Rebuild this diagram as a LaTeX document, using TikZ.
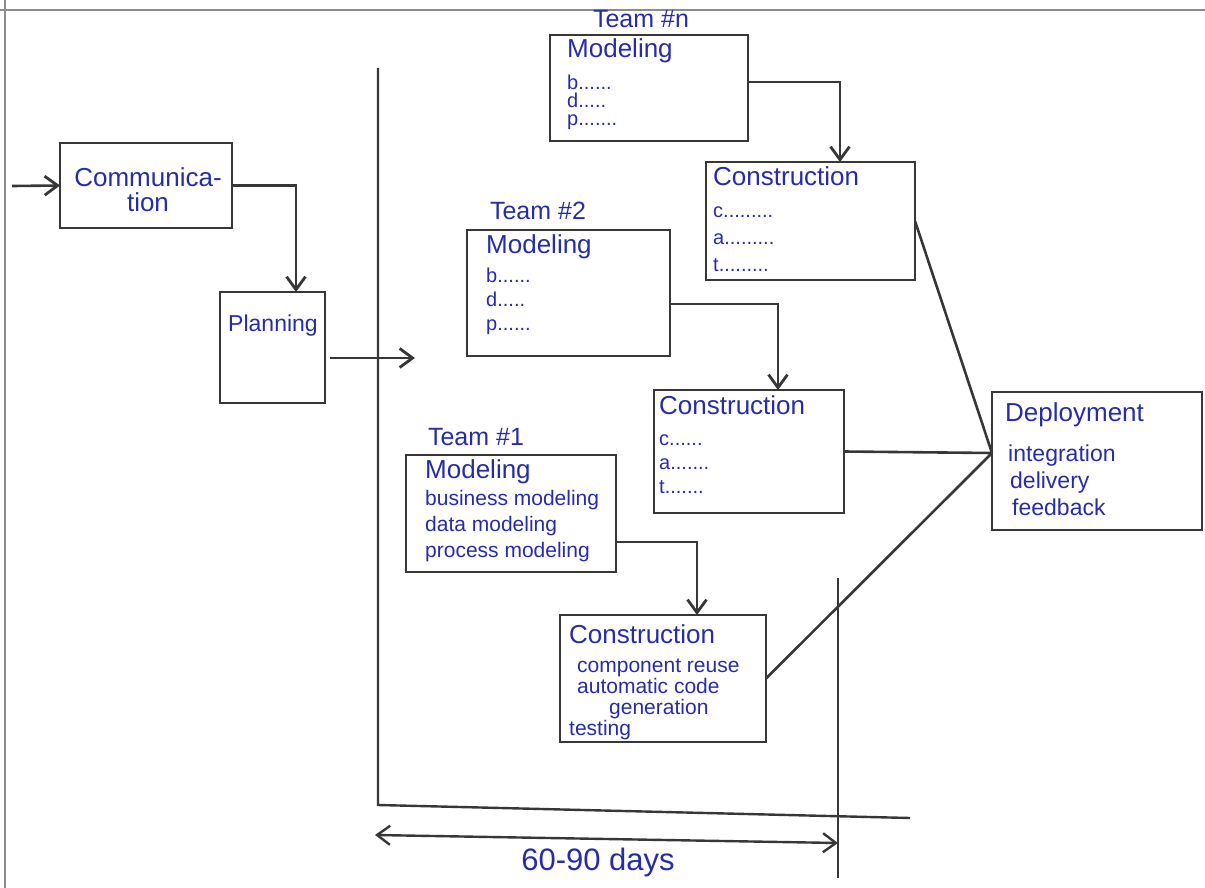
\documentclass[tikz,border=0pt]{standalone}
\usepackage{fontspec}
\setmainfont{Liberation Sans}
\usetikzlibrary{arrows.meta}

\definecolor{ink}{RGB}{38,44,168}
\definecolor{pencil}{RGB}{55,55,55}
\definecolor{paperedge}{RGB}{140,140,140}

\newcommand{\fsz}[2]{\fontsize{#1}{#2}\selectfont}

\begin{document}
\begin{tikzpicture}[x=1pt,y=-1pt,
  box/.style={draw=pencil, line width=2.8pt, inner sep=0pt, outer sep=0pt},
  txt/.style={text=ink, inner sep=0pt, anchor=north west, align=left},
  team/.style={text=ink, inner sep=0pt, font=\fsz{25}{28}},
  wire/.style={draw=pencil, line width=2.6pt},
  barb/.style={Straight Barb[length=13pt,width=19pt,line width=2.8pt]},
  arr/.style={wire, -{Straight Barb[length=13pt,width=19pt,line width=2.8pt]}},
  rule/.style={draw=pencil, line width=2.4pt}
]
\useasboundingbox (0,0) rectangle (1205,888);

% paper border
\draw[paperedge, line width=2pt] (0,10) -- (1205,10);
\draw[paperedge, line width=2pt] (5,0) -- (5,888);

% communication and planning
\node[box, minimum width=172pt, minimum height=85pt] (comm) at (146,185.5) {};
\node[text=ink, inner sep=0pt, align=center, font=\fsz{26}{25}] (commtxt) at (148,190) {Communica-\\tion};
\node[box, minimum width=105pt, minimum height=111pt] (plan) at (272.5,347.5) {};
\node[text=ink, inner sep=0pt, font=\fsz{23}{26}] (plantxt) at (273,326) {Planning};

\coordinate (start) at (12,186);
\draw[arr] (start) -- (comm.west);
\draw[arr] (comm.east) -| ([xshift=23.5pt]plan.north);
\coordinate (entry) at (415,358);
\draw[arr] ([shift={(5,10.5)}]plan.east) -- (entry);

% time box rules
\coordinate (vtop) at (378,68);
\coordinate (vbot) at (378,805);
\coordinate (hend) at (910,818);
\coordinate (rtop) at (838,578);
\coordinate (rbot) at (838,878);
\draw[rule] (vtop) -- (vbot) -- (hend);
\draw[rule] (rtop) -- (rbot);
\coordinate (dl) at (375,835);
\coordinate (dr) at (838,843);
\draw[rule, {Straight Barb[length=13pt,width=19pt,line width=2.4pt]}-{Straight Barb[length=13pt,width=19pt,line width=2.4pt]}] (dl) -- (dr);
\node[text=ink, inner sep=0pt, font=\fsz{31}{34}] (days) at (598,862) {60-90 days};

% team n
\node[team] (teamn) at (641,19) {Team \#n};
\node[box, minimum width=198pt, minimum height=106pt] (modn) at (649,88) {};
\node[txt, font=\fsz{20}{18}] (modntxt) at (567,38) {{\fsz{26}{26}Modeling}\\[12pt]b......\\d.....\\p.......};
\node[box, minimum width=209pt, minimum height=118pt] (conn) at (810.5,221) {};
\node[txt, font=\fsz{20}{27}] (conntxt) at (713,166) {{\fsz{26}{26}Construction}\\[5pt]c.........\\a.........\\t.........};
\draw[arr] ([yshift=6pt]modn.east) -| ([xshift=29.5pt]conn.north);

% team 2
\node[team] (team2) at (538,211) {Team \#2};
\node[box, minimum width=203pt, minimum height=126pt] (mod2) at (568.5,293) {};
\node[txt, font=\fsz{20}{24}] (mod2txt) at (486,234) {{\fsz{26}{26}Modeling}\\[5pt]b......\\d.....\\p......};
\node[box, minimum width=190pt, minimum height=123pt] (con2) at (749,451.5) {};
\node[txt, font=\fsz{20}{24}] (con2txt) at (659,395) {{\fsz{26}{26}Construction}\\[7pt]c......\\a.......\\t.......};
\draw[arr] ([yshift=-11pt]mod2.east) -| ([xshift=29pt]con2.north);

% team 1
\node[team] (team1) at (476,437) {Team \#1};
\node[box, minimum width=210pt, minimum height=117pt] (mod1) at (511,513.5) {};
\node[txt, font=\fsz{21}{26}] (mod1txt) at (425,459) {{\fsz{26}{26}Modeling}\\[1pt]business modeling\\data modeling\\process modeling};
\node[box, minimum width=206pt, minimum height=127pt] (con1) at (663,678.5) {};
\node[txt, font=\fsz{21}{21}] (con1txt) at (569,624) {{\fsz{26}{26}Construction}\\[8pt]\hspace*{8pt}component reuse\\\hspace*{8pt}automatic code\\\hspace*{40pt}generation\\testing};
\draw[arr] ([yshift=-28.5pt]mod1.east) -| ([xshift=34pt]con1.north);

% deployment
\node[box, minimum width=210pt, minimum height=138pt] (deploy) at (1097,461) {};
\node[txt, font=\fsz{23}{27}] (deploytxt) at (1005,402) {{\fsz{26}{26}Deployment}\\[13pt]\hspace*{3pt}integration\\\hspace*{5pt}delivery\\\hspace*{7pt}feedback};
\coordinate (join) at ([yshift=8pt]deploy.west);
\draw[wire] (conn.east) -- (join);
\draw[wire] (con2.east) -- (join);
\draw[wire] (con1.east) -- (join);
\end{tikzpicture}
\end{document}
